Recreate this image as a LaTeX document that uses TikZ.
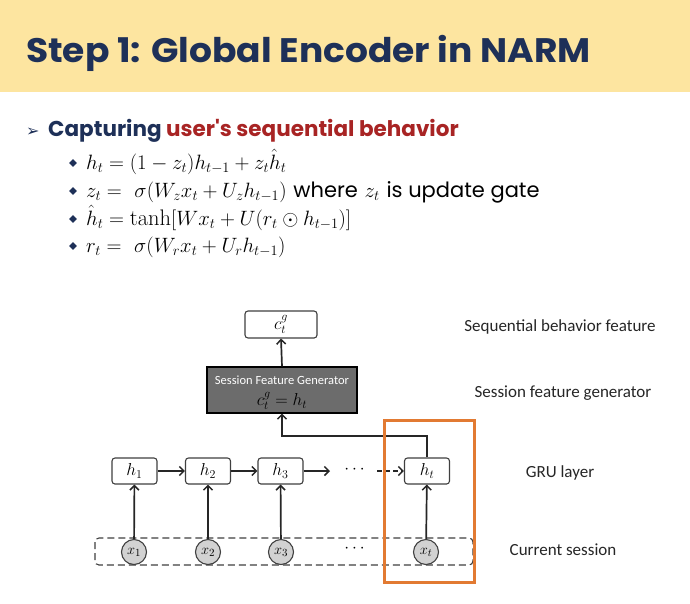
\documentclass[tikz,border=0pt]{standalone}
\usepackage{amsmath,amssymb}
\usepackage{fontspec}
\usetikzlibrary{arrows.meta}
\newfontfamily\gothic{Poppins}
\newfontfamily\labelfont{Carlito}
\newfontfamily\symfont{DejaVu Sans}
\definecolor{titlebg}{RGB}{253,229,160}
\definecolor{navy}{RGB}{30,48,88}
\definecolor{darkred}{RGB}{168,36,36}
\definecolor{hlorange}{RGB}{226,122,50}
\definecolor{genfill}{RGB}{108,108,108}
\definecolor{circfill}{RGB}{210,210,210}
\tikzset{
  hbox/.style={draw=black!75, line width=1.1pt, rounded corners=3pt, fill=white, minimum width=45pt, minimum height=26pt, inner sep=0pt, font=\fontsize{18}{20}\selectfont},
  xcirc/.style={draw=black!75, line width=1.1pt, circle, fill=circfill, minimum size=25pt, inner sep=0pt, font=\fontsize{15}{17}\selectfont},
  arr/.style={draw=black!85, line width=1.7pt, -{Straight Barb[length=4.5pt,width=9pt,line width=1.5pt]}},
  sidelabel/.style={font=\labelfont\fontsize{17}{20}\selectfont, text=black!85},
  eqn/.style={anchor=base west, inner sep=0pt, font=\fontsize{22.5}{24}\selectfont},
  dia/.style={fill=navy, minimum size=5.5pt, inner sep=0pt, rotate=45, shape=rectangle},
  dots/.style={inner sep=0pt, font=\bfseries\fontsize{16}{18}\selectfont}
}
\begin{document}
\begin{tikzpicture}[x=1pt,y=-1pt]
\useasboundingbox (0,0) rectangle (690,603);
\fill[white] (0,0) rectangle (690,603);
\fill[titlebg] (0,0) rectangle (690,92);
\node[anchor=base west, inner sep=0pt, text=navy, font=\gothic\bfseries\fontsize{34}{38}\selectfont] (title) at (26,62) {\scalebox{1.06}[1]{Step 1: Global Encoder in NARM}};

% bullet heading
\node[anchor=base west, inner sep=0pt, text=navy, font=\symfont\fontsize{16}{18}\selectfont] (arrowbul) at (26,136) {➢};
\node[anchor=base west, inner sep=0pt, font=\gothic\bfseries\fontsize{21.5}{24}\selectfont] (capt) at (48,136) {\textcolor{navy}{Capturing} \textcolor{darkred}{user's sequential behavior}};

% equations
\node[dia] (d1) at (73,163) {};
\node[dia] (d2) at (73,191) {};
\node[dia] (d3) at (73,219) {};
\node[dia] (d4) at (73,246) {};
\node[eqn] (e1) at (86,169) {$h_t = (1-z_t)h_{t-1} + z_t\hat{h}_t$};
\node[eqn] (e2) at (86,197) {$z_t = \ \sigma(W_z x_t + U_z h_{t-1})$ {\gothic\fontsize{21}{24}\selectfont where} $z_t$ {\gothic\fontsize{21}{24}\selectfont is update gate}};
\node[eqn] (e3) at (86,225) {$\hat{h}_t = \tanh[W x_t + U(r_t \odot h_{t-1})]$};
\node[eqn] (e4) at (86,252) {$r_t = \ \sigma(W_r x_t + U_r h_{t-1})$};

% diagram
\draw[black!75, line width=1.1pt, dashed, dash pattern=on 7pt off 4pt, rounded corners=4pt] (95,538) rectangle (473,565);

\node[hbox, minimum width=72pt, minimum height=27pt] (cg) at (281,324.5) {$c_t^{g}$};
\node[draw=black, line width=1.1pt, fill=genfill, minimum width=150pt, minimum height=46pt, inner sep=0pt] (gen) at (282,390) {};
\node[inner sep=0pt, text=white, font=\labelfont\fontsize{12.5}{14}\selectfont] (gentxt) at (282,380) {Session Feature Generator};
\node[inner sep=0pt, font=\fontsize{18}{20}\selectfont] (geneq) at (282,401) {$c_t^{g} = h_t$};

\node[hbox] (h1) at (134.5,471) {$h_1$};
\node[hbox] (h2) at (208,471) {$h_2$};
\node[hbox] (h3) at (280.5,471) {$h_3$};
\node[hbox] (ht) at (427,471) {$h_t$};
\node[dots] (hdots) at (356,470) {$\cdots$};

\node[xcirc] (x1) at (134,552) {$x_1$};
\node[xcirc] (x2) at (208,552) {$x_2$};
\node[xcirc] (x3) at (281,552) {$x_3$};
\node[xcirc] (xt) at (426,552) {$x_t$};
\node[dots] (xdots) at (356,549) {$\cdots$};

\coordinate (h3end) at (330,471);
\coordinate (dstart) at (377,471);
\coordinate (bend) at (427,436);

\draw[arr] (h1) -- (h2);
\draw[arr] (h2) -- (h3);
\draw[arr] (h3) -- (h3end);
\draw[arr, dash pattern=on 5pt off 3pt] (dstart) -- (ht);
\draw[arr] (x1) -- (h1);
\draw[arr] (x2) -- (h2);
\draw[arr] (x3) -- (h3);
\draw[arr] (xt) -- (ht);
\draw[arr] (ht.north) -- (bend) -| (gen.south);
\draw[arr] (gen.north) -- (cg.south);

\draw[hlorange, line width=3pt] (384,420) rectangle (474,582);

% side labels
\node[sidelabel] (l1) at (560,327) {Sequential behavior feature};
\node[sidelabel] (l2) at (563,393) {Session feature generator};
\node[sidelabel] (l3) at (560,473) {GRU layer};
\node[sidelabel] (l4) at (563,550) {Current session};
\end{tikzpicture}
\end{document}
